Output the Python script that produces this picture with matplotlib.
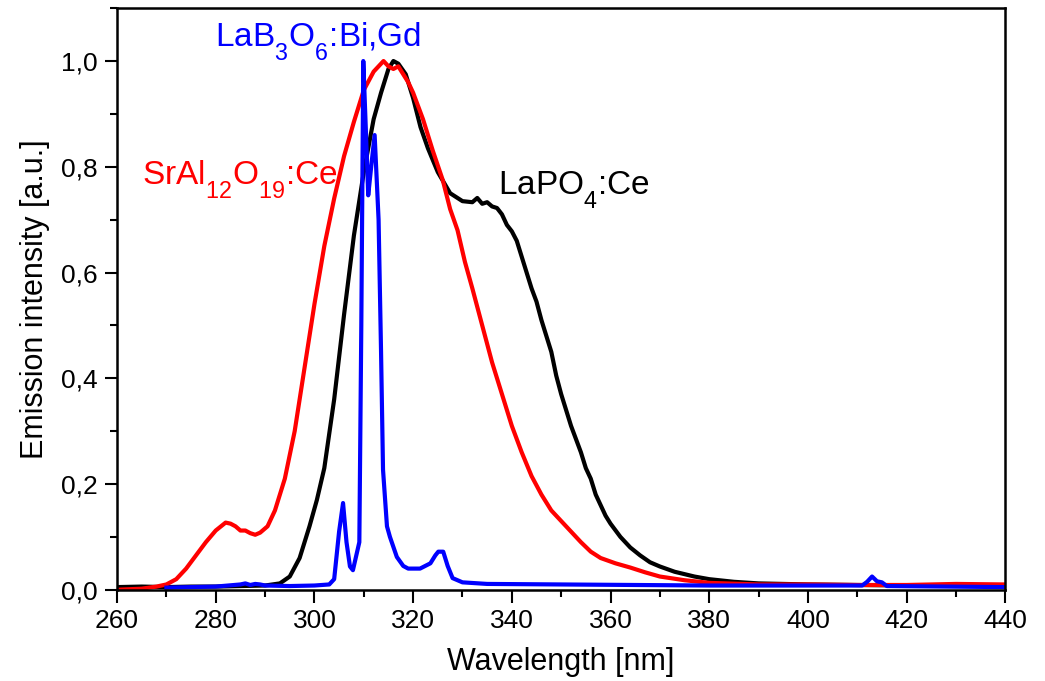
import numpy as np
import matplotlib
import matplotlib.pyplot as plt
from matplotlib.ticker import MultipleLocator, FuncFormatter
matplotlib.use("Agg")

plt.rcParams["font.family"] = ["Liberation Sans", "DejaVu Sans"]
plt.rcParams["mathtext.default"] = "regular"

# deeper subscripts for the chemical formulas
try:
    from matplotlib import _mathtext
    _mathtext.FontConstantsBase.sub1 = 0.8
except Exception:
    pass

# LaPO4:Ce emission spectrum
wl_lapo4 = [260, 265, 270, 275, 280, 285, 290, 293, 295, 297, 299, 300.5, 302,
            304, 306, 308, 310, 312, 313.5, 315, 316, 317, 318.5, 320, 321.5,
            323, 325, 327.5, 330, 332, 333, 334, 335, 336, 337, 338, 339, 340,
            341, 342, 343, 344, 345, 346, 347, 348, 349, 350, 351, 352, 353,
            354, 355, 356, 357, 358, 359, 360, 362, 364, 366, 368, 370, 373,
            377, 380, 385, 390, 400, 410, 420, 430, 440]
i_lapo4 = [0.005, 0.006, 0.005, 0.006, 0.006, 0.007, 0.008, 0.012, 0.025,
           0.06, 0.12, 0.17, 0.23, 0.36, 0.52, 0.67, 0.79, 0.89, 0.94, 0.985,
           1.0, 0.995, 0.975, 0.93, 0.875, 0.835, 0.79, 0.75, 0.735, 0.733,
           0.741, 0.73, 0.733, 0.725, 0.722, 0.71, 0.69, 0.678, 0.66, 0.63,
           0.6, 0.57, 0.545, 0.51, 0.48, 0.45, 0.405, 0.37, 0.34, 0.31, 0.285,
           0.26, 0.23, 0.21, 0.18, 0.16, 0.14, 0.125, 0.1, 0.08, 0.065, 0.052,
           0.044, 0.034, 0.025, 0.02, 0.015, 0.012, 0.01, 0.009, 0.008, 0.008,
           0.008]

# SrAl12O19:Ce emission spectrum
wl_sral = [260, 265, 268, 270, 272, 274, 276, 278, 280, 282, 283, 284, 285,
           286, 287, 288, 289, 290.5, 292, 294, 296, 298, 300, 302, 304, 306,
           308, 310, 312, 313, 314, 315, 316, 317, 318, 319, 320, 322, 324,
           326, 327.5, 329, 330.5, 332, 334, 336, 338, 340, 342, 344, 346,
           348, 350, 352, 354, 356, 358, 361, 364, 367, 370, 375, 380, 390,
           400, 410, 420, 430, 440]
i_sral = [0.0, 0.002, 0.006, 0.01, 0.02, 0.04, 0.065, 0.09, 0.112, 0.127,
          0.125, 0.12, 0.112, 0.112, 0.107, 0.104, 0.108, 0.12, 0.15, 0.21,
          0.3, 0.42, 0.54, 0.65, 0.74, 0.82, 0.885, 0.945, 0.98, 0.99, 1.0,
          0.99, 0.985, 0.99, 0.975, 0.96, 0.94, 0.89, 0.83, 0.775, 0.72, 0.68,
          0.62, 0.57, 0.5, 0.43, 0.37, 0.31, 0.26, 0.215, 0.18, 0.15, 0.13,
          0.11, 0.09, 0.072, 0.06, 0.05, 0.042, 0.033, 0.025, 0.018, 0.013,
          0.01, 0.01, 0.009, 0.009, 0.011, 0.01]

# LaB3O6:Bi,Gd emission spectrum
wl_lab = [270, 275, 280, 285, 286, 287, 288, 289, 290, 295, 300, 303, 304,
          305, 305.8, 306.5, 307.2, 307.8, 309.1, 309.5, 309.9, 310.5, 310.9,
          311.5, 312.2, 313, 313.5, 313.9, 314.7, 315.3, 316.7, 318, 319,
          321.4, 323.5, 324.5, 325.1, 326.1, 327, 328, 330, 335, 350, 380,
          400, 411, 412, 413, 414, 415, 416, 440]
i_lab = [0.004, 0.005, 0.006, 0.01, 0.012, 0.009, 0.011, 0.01, 0.008, 0.007,
         0.008, 0.01, 0.02, 0.11, 0.164, 0.09, 0.044, 0.037, 0.09, 0.5, 1.0,
         0.85, 0.746, 0.8, 0.86, 0.7, 0.45, 0.227, 0.12, 0.1, 0.062, 0.045,
         0.04, 0.04, 0.05, 0.065, 0.072, 0.072, 0.045, 0.022, 0.014, 0.011,
         0.01, 0.008, 0.008, 0.008, 0.015, 0.025, 0.016, 0.014, 0.007, 0.005]

fig = plt.figure(figsize=(10.45, 6.81), dpi=100)
ax = fig.add_axes([0.112, 0.134, 0.850, 0.854])

ax.plot(wl_lapo4, i_lapo4, color="black", linewidth=3)
ax.plot(wl_sral, i_sral, color="#ff0000", linewidth=3)
ax.plot(wl_lab, i_lab, color="#0000ff", linewidth=3)

ax.text(279.9, 1.028, r"LaB$_3$O$_6$:Bi,Gd", color="#0000ff", fontsize=24,
        va="baseline")
ax.text(265.1, 0.766, r"SrAl$_{12}$O$_{19}$:Ce", color="#ff0000", fontsize=24,
        va="baseline")
ax.text(337.2, 0.747, r"LaPO$_4$:Ce", color="black", fontsize=24,
        va="baseline")

ax.set_xlim(260, 440)
ax.set_ylim(0, 1.1)
ax.xaxis.set_major_locator(MultipleLocator(20))
ax.xaxis.set_minor_locator(MultipleLocator(10))
ax.yaxis.set_major_locator(MultipleLocator(0.2))
ax.yaxis.set_minor_locator(MultipleLocator(0.1))
ax.yaxis.set_major_formatter(FuncFormatter(lambda v, p: f"{v:.1f}".replace(".", ",")))

ax.tick_params(which="major", direction="out", length=9, width=1.5,
               labelsize=19, pad=5)
ax.tick_params(which="minor", direction="out", length=5, width=1.5)
for s in ax.spines.values():
    s.set_linewidth(1.8)

ax.set_xlabel("Wavelength [nm]", fontsize=22, labelpad=10)
ax.set_ylabel("Emission intensity [a.u.]", fontsize=22, labelpad=8)

fig.savefig("out.png", dpi=100)
